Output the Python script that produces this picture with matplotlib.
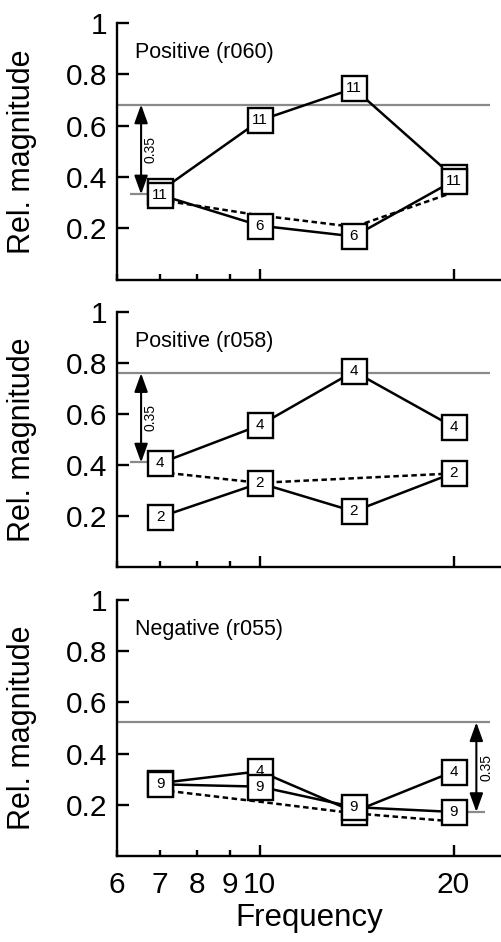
import matplotlib
matplotlib.use('Agg')
import matplotlib.pyplot as plt

plt.rcParams['font.family'] = ['Liberation Sans', 'DejaVu Sans']

# ---------------- data ----------------
freqs = [7, 10, 14, 20]
x_major = [10, 20]
x_major_labels = ['10', '20']
x_minor = [6, 7, 8, 9]
x_minor_labels = ['6', '7', '8', '9']
y_ticks = [0.2, 0.4, 0.6, 0.8, 1.0]
y_tick_labels = ['0.2', '0.4', '0.6', '0.8', '1']

titles = ['Positive (r060)', 'Positive (r058)', 'Negative (r055)']

# Panel 1 (r060)
p1_a = [0.345, 0.62, 0.745, 0.40]
p1_a_n = ['11', '11', '11', '11']
p1_b = [0.33, 0.21, 0.168, 0.385]
p1_b_n = ['11', '6', '6', '11']
p1_dash = [0.31, 0.25, 0.205, 0.34]
p1_base = 0.332

# Panel 2 (r058)
p2_a = [0.196, 0.329, 0.218, 0.369]
p2_a_n = ['2', '2', '2', '2']
p2_b = [0.407, 0.556, 0.767, 0.549]
p2_b_n = ['4', '4', '4', '4']
p2_dash = [0.372, 0.33, 0.348, 0.367]
p2_base = 0.41

# Panel 3 (r055)
p3_a = [0.285, 0.331, 0.173, 0.33]
p3_a_n = ['4', '4', '4', '4']
p3_b = [0.28, 0.271, 0.191, 0.172]
p3_b_n = ['9', '9', '9', '9']
p3_dash = [0.258, 0.212, 0.167, 0.135]
p3_base = 0.172

spread = 0.35
spread_label = '0.35'

# arrow placement (x position, baseline segment extent)
arrow_cfg = [
    dict(xa=6.54, seg=(6.28, 6.80)),
    dict(xa=6.54, seg=(6.28, 6.80)),
    dict(xa=21.7, seg=(20.5, 22.4)),
]
top_line_end = 22.8

panels = [
    (p1_a, p1_a_n, p1_b, p1_b_n, p1_dash, p1_base),
    (p2_a, p2_a_n, p2_b, p2_b_n, p2_dash, p2_base),
    (p3_a, p3_a_n, p3_b, p3_b_n, p3_dash, p3_base),
]

# ---------------- layout ----------------
W, H = 501, 942
fig = plt.figure(figsize=(W / 100, H / 100), dpi=100)
left = 117 / W
width = (W - 117) / W
axes_px = [(23, 279.5), (312, 567), (600, 856)]

gray = '#8a8a8a'
lw = 1.8

for i, ((a, an, b, bn, dsh, base), (ytop, ybot)) in enumerate(zip(panels, axes_px)):
    ax = fig.add_axes([left, 1 - ybot / H, width, (ybot - ytop) / H])
    ax.set_xscale('log')
    ax.set_xlim(6, 23.7)
    ax.set_ylim(0, 1)
    ax.patch.set_visible(False)

    for s in ['top', 'right']:
        ax.spines[s].set_visible(False)
    for s in ['left', 'bottom']:
        ax.spines[s].set_linewidth(1.7)
        ax.spines[s].set_capstyle('projecting')

    # ticks
    ax.set_yticks(y_ticks)
    ax.set_yticklabels(y_tick_labels)
    ax.set_xticks(x_major)
    ax.set_xticks(x_minor, minor=True)
    if i == 2:
        ax.set_xticklabels(x_major_labels)
        ax.set_xticklabels(x_minor_labels, minor=True)
        ax.set_xlabel('Frequency', fontsize=22.5, labelpad=3)
    else:
        ax.set_xticklabels([])
        ax.set_xticklabels([], minor=True)
    ax.tick_params(axis='y', which='major', direction='in', length=8.5, width=1.7,
                   labelsize=21.5, pad=7)
    ax.tick_params(axis='x', which='major', direction='in', length=8, width=1.7,
                   labelsize=21.5, pad=10.5)
    ax.tick_params(axis='x', which='minor', direction='in', length=4.5, width=1.7,
                   labelsize=21.5, pad=10.5)
    ax.set_ylabel('Rel. magnitude', fontsize=22)
    ax.yaxis.set_label_coords(-0.208, 0.5)

    # title
    ax.text(0.047, 0.885, titles[i], transform=ax.transAxes, fontsize=15.5,
            ha='left', va='center')

    # reference lines and arrow
    cfg = arrow_cfg[i]
    top = base + spread
    ax.plot([6, top_line_end], [top, top], color=gray, lw=1.6, zorder=1,
            solid_capstyle='butt')
    ax.plot(list(cfg['seg']), [base, base], color=gray, lw=1.6, zorder=1,
            solid_capstyle='butt')
    ax.annotate('', xy=(cfg['xa'], top), xytext=(cfg['xa'], base),
                arrowprops=dict(arrowstyle='<|-|>,head_length=0.75,head_width=0.27',
                                color='black', lw=1.5, mutation_scale=15,
                                shrinkA=0, shrinkB=0), zorder=1.5)
    ax.annotate(spread_label, xy=(cfg['xa'], (base + top) / 2),
                xytext=(7, 0), textcoords='offset points', rotation=90,
                ha='center', va='center', fontsize=10)

    # data
    ax.plot(freqs, dsh, color='black', lw=lw, ls=(0, (2.2, 1.4)), zorder=2)
    ax.plot(freqs, a, color='black', lw=lw, zorder=2)
    ax.plot(freqs, b, color='black', lw=lw, zorder=2)
    for z, (ys, ns) in zip([3, 4], [(a, an), (b, bn)]):
        ax.plot(freqs, ys, ls='none', marker='s', ms=18, mfc='white', mec='black',
                mew=1.7, zorder=z, clip_on=False)
        for xv, yv, nv in zip(freqs, ys, ns):
            ax.text(xv, yv, nv, ha='center', va='center', fontsize=11,
                    zorder=z + 0.1)

fig.savefig('out.png', dpi=100)
